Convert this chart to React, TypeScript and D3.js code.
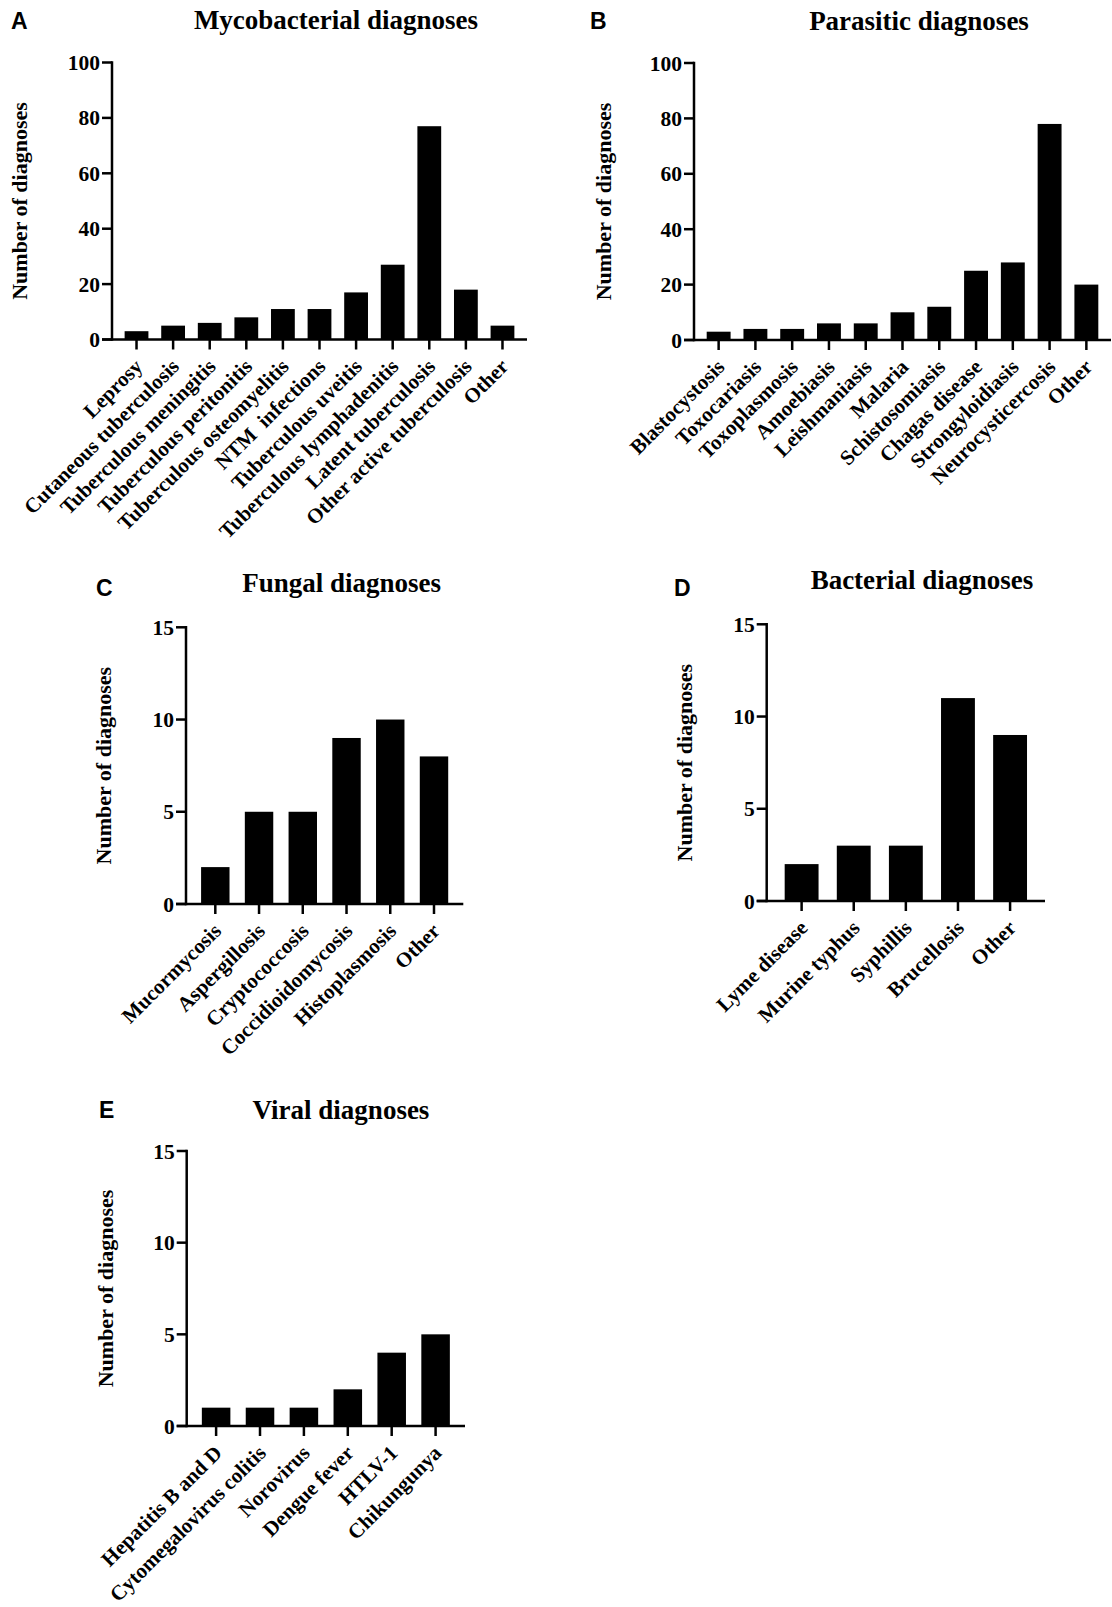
import React from 'react';
import * as d3 from 'd3';

// ---- data ----
const mycoLabels = ['Leprosy', 'Cutaneous tuberculosis', 'Tuberculous meningitis', 'Tuberculous peritonitis',
  'Tuberculous osteomyelitis', 'NTM  infections', 'Tuberculous uveitis', 'Tuberculous lymphadenitis',
  'Latent tuberculosis', 'Other active tuberculosis', 'Other'];
const mycoCounts = [3, 5, 6, 8, 11, 11, 17, 27, 77, 18, 5];

const parasiticLabels = ['Blastocystosis', 'Toxocariasis', 'Toxoplasmosis', 'Amoebiasis', 'Leishmaniasis',
  'Malaria', 'Schistosomiasis', 'Chagas disease', 'Strongyloidiasis', 'Neurocysticercosis', 'Other'];
const parasiticCounts = [3, 4, 4, 6, 6, 10, 12, 25, 28, 78, 20];

const fungalLabels = ['Mucormycosis', 'Aspergillosis', 'Cryptococcosis', 'Coccidioidomycosis', 'Histoplasmosis', 'Other'];
const fungalCounts = [2, 5, 5, 9, 10, 8];

const bacterialLabels = ['Lyme disease', 'Murine typhus', 'Syphillis', 'Brucellosis', 'Other'];
const bacterialCounts = [2, 3, 3, 11, 9];

const viralLabels = ['Hepatitis B and D', 'Cytomegalovirus colitis', 'Norovirus', 'Dengue fever', 'HTLV-1', 'Chikungunya'];
const viralCounts = [1, 1, 1, 2, 4, 5];

const ticks100 = [0, 20, 40, 60, 80, 100];
const ticks15 = [0, 5, 10, 15];

const SERIF = '"Liberation Serif", "Times New Roman", serif';
const SANS = '"Liberation Sans", Arial, sans-serif';
const TICK = 10;

function BarPanel({ letter, title, labels, counts, ticks, layout }) {
  const { letterX, letterY, titleX, titleY, x0, x1, yTop, yZero, yLabelX } = layout;

  const x = d3.scaleBand()
    .domain(labels)
    .range([x0, x1])
    .paddingInner(0.35)
    .paddingOuter(0.345);

  const y = d3.scaleLinear()
    .domain([0, d3.max(ticks)])
    .range([yZero, yTop]);

  return (
    <g>
      <text x={letterX} y={letterY} fontFamily={SANS} fontWeight="bold" fontSize={23}>{letter}</text>
      <text x={titleX} y={titleY} textAnchor="middle" fontFamily={SERIF} fontWeight="bold" fontSize={27}>{title}</text>

      {/* bars */}
      {counts.map((v, i) => (
        <rect key={i} x={x(labels[i])} y={y(v)} width={x.bandwidth()} height={yZero - y(v)} fill="#000" />
      ))}

      {/* y axis */}
      <line x1={x0} x2={x0} y1={yTop} y2={yZero} stroke="#000" strokeWidth={2.5} strokeLinecap="square" />
      {ticks.map(t => (
        <g key={t}>
          <line x1={x0 - TICK} x2={x0} y1={y(t)} y2={y(t)} stroke="#000" strokeWidth={2.5} />
          <text x={x0 - 12} y={y(t)} dy="0.35em" textAnchor="end" fontFamily={SERIF} fontWeight="bold" fontSize={21.5}>{t}</text>
        </g>
      ))}
      <text transform={`translate(${yLabelX},${(yTop + yZero) / 2}) rotate(-90)`} dy="0.35em" textAnchor="middle"
        fontFamily={SERIF} fontWeight="bold" fontSize={22}>Number of diagnoses</text>

      {/* x axis */}
      <line x1={x0 - TICK} x2={x1} y1={yZero} y2={yZero} stroke="#000" strokeWidth={2.5} />
      {labels.map(l => {
        const cx = x(l) + x.bandwidth() / 2;
        return (
          <g key={l}>
            <line x1={cx} x2={cx} y1={yZero} y2={yZero + TICK} stroke="#000" strokeWidth={2.5} />
            <text transform={`translate(${cx + 2},${yZero + TICK + 13}) rotate(-45)`} dy="0.35em" textAnchor="end"
              fontFamily={SERIF} fontWeight="bold" fontSize={21} style={{ whiteSpace: 'pre' }}>{l}</text>
          </g>
        );
      })}
    </g>
  );
}

export default function App() {
  return (
    <svg width={1112} height={1607} style={{ position: 'absolute', left: 0, top: 0, background: '#fff' }}>
      <rect width={1112} height={1607} fill="#fff" />
      <BarPanel letter="A" title="Mycobacterial diagnoses" labels={mycoLabels} counts={mycoCounts} ticks={ticks100}
        layout={{ letterX: 11, letterY: 29, titleX: 336, titleY: 29, x0: 112, x1: 527, yTop: 62.5, yZero: 339.5, yLabelX: 19 }} />
      <BarPanel letter="B" title="Parasitic diagnoses" labels={parasiticLabels} counts={parasiticCounts} ticks={ticks100}
        layout={{ letterX: 590, letterY: 29, titleX: 919, titleY: 30, x0: 694, x1: 1111, yTop: 63, yZero: 340, yLabelX: 603 }} />
      <BarPanel letter="C" title="Fungal diagnoses" labels={fungalLabels} counts={fungalCounts} ticks={ticks15}
        layout={{ letterX: 96, letterY: 596, titleX: 341.7, titleY: 592, x0: 186, x1: 463.3, yTop: 627.3, yZero: 904, yLabelX: 103 }} />
      <BarPanel letter="D" title="Bacterial diagnoses" labels={bacterialLabels} counts={bacterialCounts} ticks={ticks15}
        layout={{ letterX: 674, letterY: 596, titleX: 922, titleY: 589, x0: 766.7, x1: 1045, yTop: 624.3, yZero: 901, yLabelX: 684 }} />
      <BarPanel letter="E" title="Viral diagnoses" labels={viralLabels} counts={viralCounts} ticks={ticks15}
        layout={{ letterX: 99, letterY: 1118, titleX: 341, titleY: 1118.5, x0: 186.7, x1: 465, yTop: 1151, yZero: 1426, yLabelX: 105 }} />
    </svg>
  );
}
